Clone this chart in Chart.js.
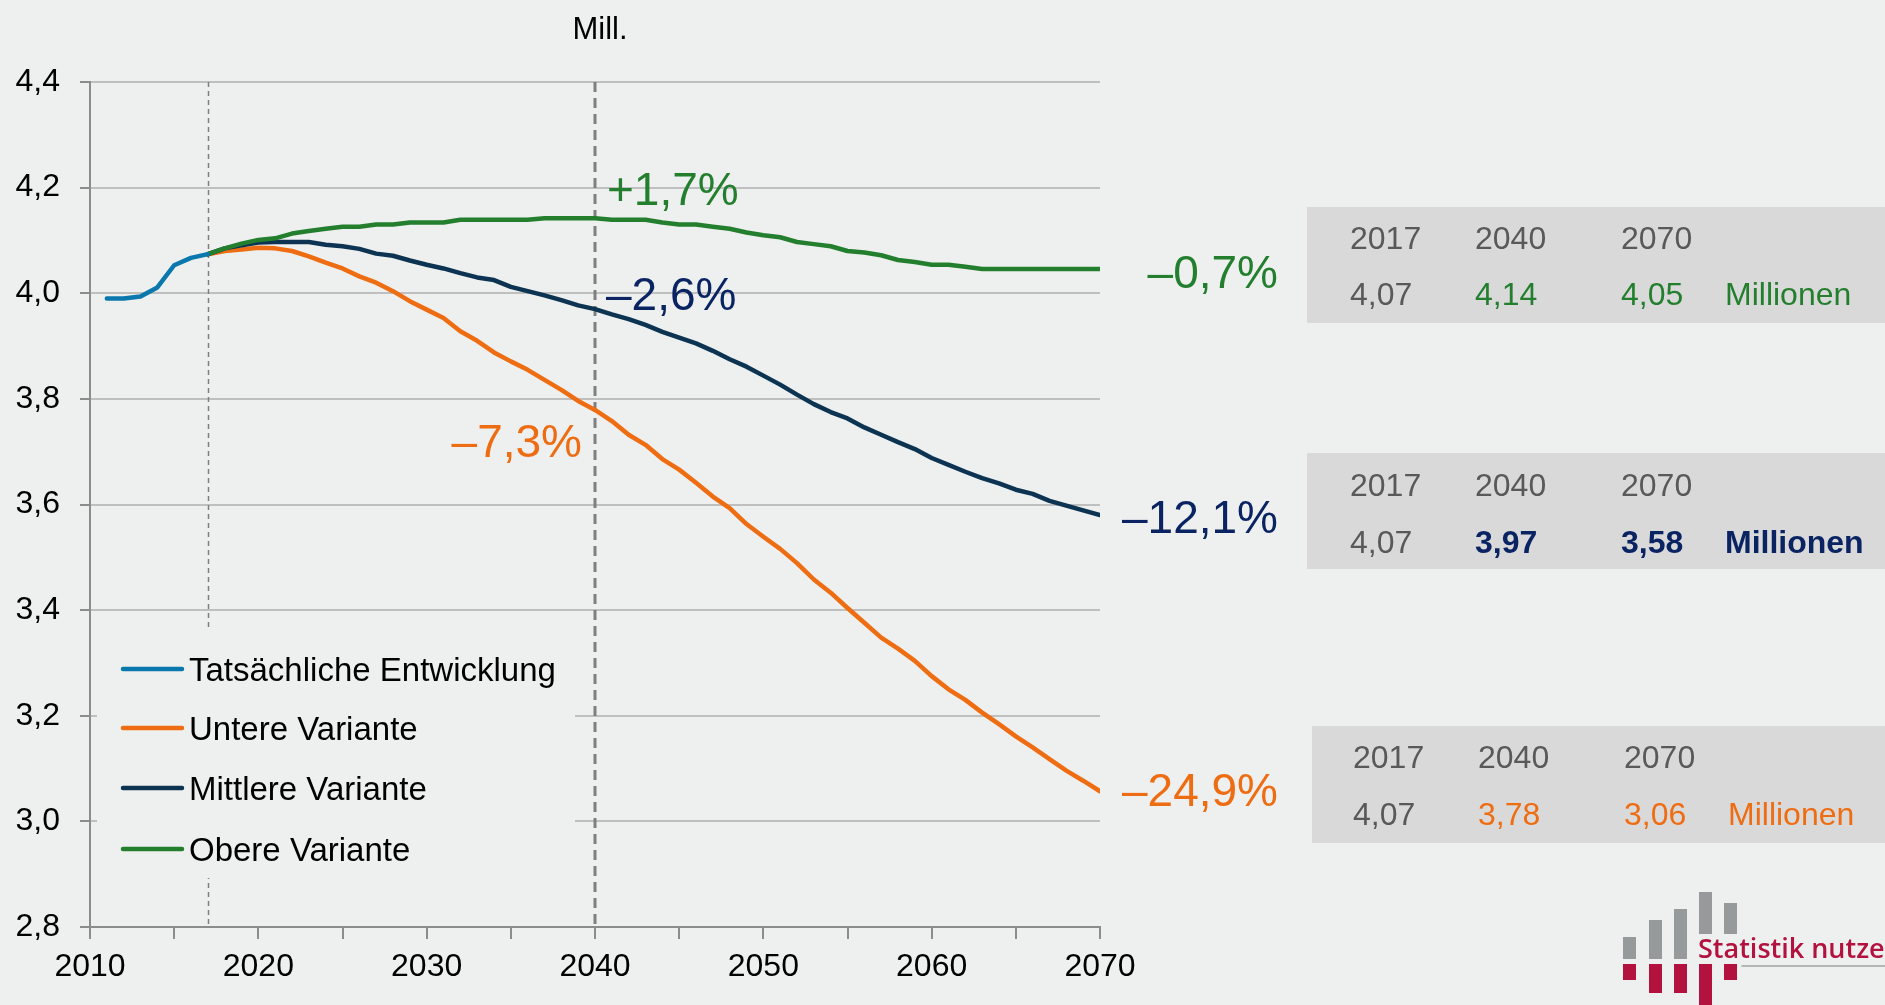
<!DOCTYPE html>
<html><head><meta charset="utf-8">
<script src="https://cdn.jsdelivr.net/npm/chart.js@4/dist/chart.umd.min.js"></script>
<style>
html,body{margin:0;padding:0;background:#EEF0EF;}
#wrap{position:relative;width:1885px;height:1005px;overflow:hidden;}
canvas{display:block;}
</style>
</head><body><div id="wrap"><canvas id="c" width="1885" height="1005"></canvas></div>
<script>
// ---------- data ----------
const actualYears = [2011, 2012, 2013, 2014, 2015, 2016, 2017];
const actualValues = [3.990, 3.990, 3.994, 4.011, 4.053, 4.067, 4.074];

const projYears = [];
for (let yr = 2017; yr <= 2070; yr++) projYears.push(yr);

const untereValues = [4.074, 4.080, 4.083, 4.086, 4.085, 4.080, 4.070, 4.058, 4.047, 4.032,
  4.020, 4.004, 3.985, 3.969, 3.953, 3.928, 3.910, 3.888, 3.871, 3.855,
  3.836, 3.817, 3.796, 3.779, 3.758, 3.732, 3.713, 3.686, 3.666, 3.641,
  3.615, 3.593, 3.563, 3.539, 3.516, 3.489, 3.458, 3.433, 3.404, 3.376,
  3.348, 3.327, 3.304, 3.275, 3.250, 3.230, 3.206, 3.184, 3.161, 3.140,
  3.118, 3.096, 3.077, 3.057];

const mittlereValues = [4.074, 4.085, 4.091, 4.096, 4.097, 4.097, 4.097, 4.092, 4.089, 4.084,
  4.075, 4.071, 4.062, 4.054, 4.047, 4.038, 4.030, 4.025, 4.012, 4.004,
  3.996, 3.987, 3.977, 3.970, 3.960, 3.951, 3.940, 3.927, 3.916, 3.905,
  3.891, 3.875, 3.861, 3.844, 3.827, 3.808, 3.790, 3.775, 3.763, 3.746,
  3.732, 3.718, 3.705, 3.688, 3.675, 3.662, 3.650, 3.640, 3.628, 3.620,
  3.607, 3.598, 3.589, 3.580];

const obereValues = [4.074, 4.085, 4.094, 4.101, 4.104, 4.113, 4.118, 4.122, 4.126, 4.126,
  4.130, 4.130, 4.134, 4.134, 4.134, 4.139, 4.139, 4.139, 4.139, 4.139,
  4.142, 4.142, 4.142, 4.142, 4.139, 4.139, 4.139, 4.134, 4.130, 4.130,
  4.126, 4.122, 4.115, 4.110, 4.106, 4.097, 4.093, 4.089, 4.080, 4.077,
  4.072, 4.063, 4.059, 4.054, 4.054, 4.050, 4.046, 4.046, 4.046, 4.046,
  4.046, 4.046, 4.046, 4.046];

const seriesLabels = ['Tatsächliche Entwicklung', 'Untere Variante', 'Mittlere Variante', 'Obere Variante'];
const markerYears = [2017, 2040];
const unitLabel = 'Mill.';

const tableYears = ['2017', '2040', '2070'];
const tableObere = ['4,07', '4,14', '4,05'];
const tableMittlere = ['4,07', '3,97', '3,58'];
const tableUntere = ['4,07', '3,78', '3,06'];
const tableUnit = 'Millionen';

const pctObere = ['+1,7%', '–0,7%'];
const pctMittlere = ['–2,6%', '–12,1%'];
const pctUntere = ['–7,3%', '–24,9%'];

const logoText = 'Statistik nutzen';

// ---------- style ----------
const FONT = '"Liberation Sans", Arial, sans-serif';
const BG = '#EEF0EF';
const C_BLUE = '#0A78AC';
const C_ORANGE = '#EE6C12';
const C_NAVY = '#0C3452';
const C_GREEN = '#237F2E';
const C_NAVYTXT = '#0A2463';
const C_GRAYTXT = '#595959';
const AXIS = '#8C8C8C';

function pts(xs, ys) { return xs.map((v, i) => ({ x: v, y: ys[i] })); }

const overlay = {
  id: 'overlay',
  beforeDatasetsDraw(chart) {
    const { ctx, chartArea: a, scales: { x } } = chart;
    ctx.save();
    ctx.strokeStyle = '#7F7F7F';
    let px = Math.round(x.getPixelForValue(markerYears[0])) + 0.5;
    ctx.lineWidth = 1.5; ctx.setLineDash([5, 4]);
    ctx.beginPath(); ctx.moveTo(px, a.top); ctx.lineTo(px, a.bottom); ctx.stroke();
    px = Math.round(x.getPixelForValue(markerYears[1]));
    ctx.lineWidth = 3; ctx.setLineDash([10, 6]);
    ctx.beginPath(); ctx.moveTo(px, a.top); ctx.lineTo(px, a.bottom); ctx.stroke();
    ctx.restore();
  },
  afterDatasetsDraw(chart) {
    const { ctx, chartArea: a, scales: { x } } = chart;
    ctx.save();
    // legend box
    ctx.fillStyle = BG;
    ctx.fillRect(a.left + 7, 630, 478, 248);
    const ds = chart.data.datasets;
    const ly = [669, 728, 788, 849];
    ctx.font = '33px ' + FONT;
    ctx.textBaseline = 'alphabetic';
    ctx.textAlign = 'left';
    ds.forEach((d, i) => {
      ctx.strokeStyle = d.borderColor; ctx.lineWidth = 4.5; ctx.lineCap = 'round';
      ctx.beginPath(); ctx.moveTo(a.left + 33, ly[i]); ctx.lineTo(a.left + 92, ly[i]); ctx.stroke();
      ctx.fillStyle = '#000';
      ctx.fillText(d.label, a.left + 99, ly[i] + 12);
    });

    // unit label
    ctx.font = '31px ' + FONT;
    ctx.textAlign = 'center';
    ctx.fillStyle = '#000';
    ctx.fillText(unitLabel, x.getPixelForValue(markerYears[1]) + 5, 39);

    // percentage labels
    const x40 = x.getPixelForValue(2040), x70 = x.getPixelForValue(2070);
    ctx.font = '46px ' + FONT;
    ctx.textAlign = 'left';
    ctx.fillStyle = C_GREEN; ctx.fillText(pctObere[0], x40 + 12, 205);
    ctx.fillStyle = C_NAVYTXT; ctx.fillText(pctMittlere[0], x40 + 11, 310);
    ctx.textAlign = 'right';
    ctx.fillStyle = C_ORANGE; ctx.fillText(pctUntere[0], x40 - 13, 457);
    ctx.fillStyle = C_GREEN; ctx.fillText(pctObere[1], x70 + 178, 288);
    ctx.fillStyle = C_NAVYTXT; ctx.fillText(pctMittlere[1], x70 + 178, 533);
    ctx.fillStyle = C_ORANGE; ctx.fillText(pctUntere[1], x70 + 178, 806);

    // tables
    const tables = [
      { left: 1307, top: 207, bottom: 323, cols: [1350, 1475, 1621, 1725], base: [249, 305], vals: tableObere, color: C_GREEN, bold: false },
      { left: 1307, top: 453, bottom: 569, cols: [1350, 1475, 1621, 1725], base: [496, 553], vals: tableMittlere, color: C_NAVYTXT, bold: true },
      { left: 1312, top: 726, bottom: 843, cols: [1353, 1478, 1624, 1728], base: [768, 825], vals: tableUntere, color: C_ORANGE, bold: false }
    ];
    tables.forEach(t => {
      ctx.fillStyle = '#D9D9D9';
      ctx.fillRect(t.left, t.top, 1885 - t.left, t.bottom - t.top);
      ctx.textAlign = 'left';
      ctx.font = '32px ' + FONT;
      ctx.fillStyle = C_GRAYTXT;
      tableYears.forEach((yv, i) => ctx.fillText(yv, t.cols[i], t.base[0]));
      ctx.fillText(t.vals[0], t.cols[0], t.base[1]);
      ctx.font = (t.bold ? 'bold ' : '') + '32px ' + FONT;
      ctx.fillStyle = t.color;
      ctx.fillText(t.vals[1], t.cols[1], t.base[1]);
      ctx.fillText(t.vals[2], t.cols[2], t.base[1]);
      ctx.fillText(tableUnit, t.cols[3], t.base[1]);
    });

    // logo
    const gray = [[1623, 937, 13, 22], [1649, 920, 13, 39], [1674, 909, 13, 50], [1699, 892, 13, 42], [1724, 903, 13, 31]];
    const red = [[1623, 964, 13, 16], [1649, 964, 13, 29], [1674, 964, 13, 29], [1699, 964, 13, 41], [1724, 964, 13, 16]];
    ctx.fillStyle = '#979A9A';
    gray.forEach(r => ctx.fillRect(r[0], r[1], r[2], r[3]));
    ctx.fillStyle = '#B3123F';
    red.forEach(r => ctx.fillRect(r[0], r[1], r[2], r[3]));
    ctx.fillStyle = '#B3123F';
    ctx.font = '600 27px "Open Sans", "Noto Sans", sans-serif';
    ctx.textAlign = 'left';
    ctx.fillText(logoText, 1698, 958);
    ctx.strokeStyle = '#A0A3A3'; ctx.lineWidth = 1.5;
    ctx.beginPath(); ctx.moveTo(1742, 966); ctx.lineTo(1885, 966); ctx.stroke();
    ctx.restore();
  }
};

const common = { pointRadius: 0, pointHoverRadius: 0, borderWidth: 4.5, tension: 0, fill: false, borderJoinStyle: 'round', borderCapStyle: 'round' };

new Chart(document.getElementById('c'), {
  type: 'line',
  data: {
    datasets: [
      Object.assign({ label: seriesLabels[0], data: pts(actualYears, actualValues), borderColor: C_BLUE, order: 0 }, common),
      Object.assign({ label: seriesLabels[1], data: pts(projYears, untereValues), borderColor: C_ORANGE, order: 3 }, common),
      Object.assign({ label: seriesLabels[2], data: pts(projYears, mittlereValues), borderColor: C_NAVY, order: 2 }, common),
      Object.assign({ label: seriesLabels[3], data: pts(projYears, obereValues), borderColor: C_GREEN, order: 1 }, common)
    ]
  },
  options: {
    responsive: false,
    animation: false,
    devicePixelRatio: 1,
    layout: { padding: { left: 0, right: 785, top: 82, bottom: 0 } },
    plugins: { legend: { display: false }, tooltip: { enabled: false } },
    scales: {
      x: {
        type: 'linear', min: 2010, max: 2070,
        ticks: { stepSize: 5, autoSkip: false, maxRotation: 0, padding: 9, color: '#000',
          font: { family: FONT, size: 32 },
          callback: v => (v % 10 === 0 ? String(v) : '') },
        grid: { drawOnChartArea: false, drawTicks: true, tickLength: 12, color: AXIS, lineWidth: 2 },
        border: { color: AXIS, width: 2 },
        afterFit(s) { s.height = 78; }
      },
      y: {
        min: 2.8, max: 4.4,
        ticks: { stepSize: 0.2, padding: 20, color: '#000', font: { family: FONT, size: 32 },
          callback: v => Number(v).toFixed(1).replace('.', ',') },
        grid: { color: c => (Math.abs(c.tick.value - 2.8) < 1e-6 ? 'rgba(0,0,0,0)' : '#BFBFBF'),
          lineWidth: 2, tickLength: 10, tickColor: AXIS, drawTicks: true },
        border: { color: AXIS, width: 2 },
        afterFit(s) { s.width = 90; }
      }
    }
  },
  plugins: [overlay]
});
</script>
</body></html>
